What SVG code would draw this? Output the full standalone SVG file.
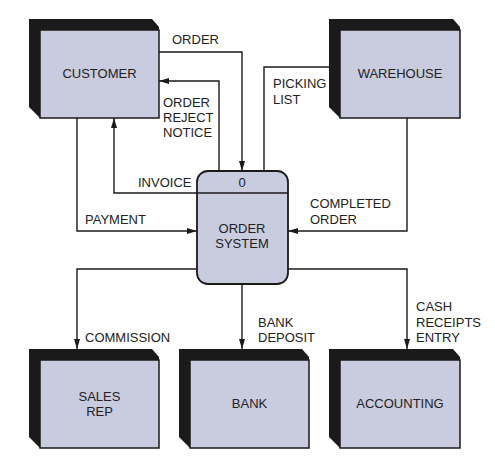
<svg xmlns="http://www.w3.org/2000/svg" width="495" height="456" viewBox="0 0 495 456">
<defs>
<marker id="ah" viewBox="0 0 10 6" refX="10" refY="3" markerWidth="10" markerHeight="6" markerUnits="userSpaceOnUse" orient="auto">
<path d="M0,0 L10,3 L0,6 Z" fill="#1a1a1a"/>
</marker>
</defs>
<style>
.back{fill:#1a1a1a}
.face{fill:#c9cbdf;stroke:#1a1a1a;stroke-width:1.5}
.proc{fill:#c9cbdf;stroke:#1a1a1a;stroke-width:1.8}
.ln{fill:none;stroke:#1a1a1a;stroke-width:1.4;marker-end:url(#ah)}
text{font-family:"Liberation Sans",Arial,sans-serif;font-size:13px;fill:#222}
.c{text-anchor:middle}
</style>
<rect width="495" height="456" fill="#ffffff"/>
<g id="connectors">
<polyline class="ln" points="159,52 242,52 242,171"/>
<polyline class="ln" points="219,171 219,81 159,81"/>
<polyline class="ln" points="197,193 114,193 114,118"/>
<polyline class="ln" points="264,171 264,67 340,67"/>
<polyline class="ln" points="77,118 77,231 197,231"/>
<polyline class="ln" points="407,118 407,231 288,231"/>
<polyline class="ln" points="197,269 77,269 77,349"/>
<polyline class="ln" points="242,284 242,349"/>
<polyline class="ln" points="288,269 407,269 407,349"/>
<text x="172" y="44">ORDER</text>
<text x="163" y="107">ORDER</text>
<text x="163" y="122">REJECT</text>
<text x="163" y="137">NOTICE</text>
<text x="138" y="187">INVOICE</text>
<text x="273" y="88">PICKING</text>
<text x="273" y="104">LIST</text>
<text x="85" y="224">PAYMENT</text>
<text x="310" y="208">COMPLETED</text>
<text x="310" y="224">ORDER</text>
<text x="85" y="342">COMMISSION</text>
<text x="258" y="327">BANK</text>
<text x="258" y="342">DEPOSIT</text>
<text x="416" y="311">CASH</text>
<text x="416" y="327">RECEIPTS</text>
<text x="416" y="342">ENTRY</text>
</g>
<g id="customer">
<polygon class="back" points="29,19 152,19 159,27 159,118 40,118 29,107"/>
<rect class="face" x="40" y="30" width="119" height="88"/>
<text class="c" x="99.5" y="78">CUSTOMER</text>
</g>
<g id="warehouse">
<polygon class="back" points="329,19 453,19 460,27 460,118 340,118 329,107"/>
<rect class="face" x="340" y="30" width="120" height="88"/>
<text class="c" x="400" y="78">WAREHOUSE</text>
</g>
<g id="sales-rep">
<polygon class="back" points="29,349 152,349 159,357 159,448 40,448 29,437"/>
<rect class="face" x="40" y="360" width="119" height="88"/>
<text class="c" x="99.5" y="401">SALES</text>
<text class="c" x="99.5" y="416">REP</text>
</g>
<g id="bank">
<polygon class="back" points="179,349 302,349 309,357 309,448 190,448 179,437"/>
<rect class="face" x="190" y="360" width="119" height="88"/>
<text class="c" x="249.5" y="408">BANK</text>
</g>
<g id="accounting">
<polygon class="back" points="329,349 453,349 460,357 460,448 340,448 329,437"/>
<rect class="face" x="340" y="360" width="120" height="88"/>
<text class="c" x="400" y="408">ACCOUNTING</text>
</g>
<g id="order-system">
<rect class="proc" x="197" y="171" width="91" height="113" rx="11"/>
<line x1="197" y1="193" x2="288" y2="193" stroke="#1a1a1a" stroke-width="1.4"/>
<text class="c" x="242" y="187">0</text>
<text class="c" x="242" y="233">ORDER</text>
<text class="c" x="242" y="248">SYSTEM</text>
</g>
</svg>
